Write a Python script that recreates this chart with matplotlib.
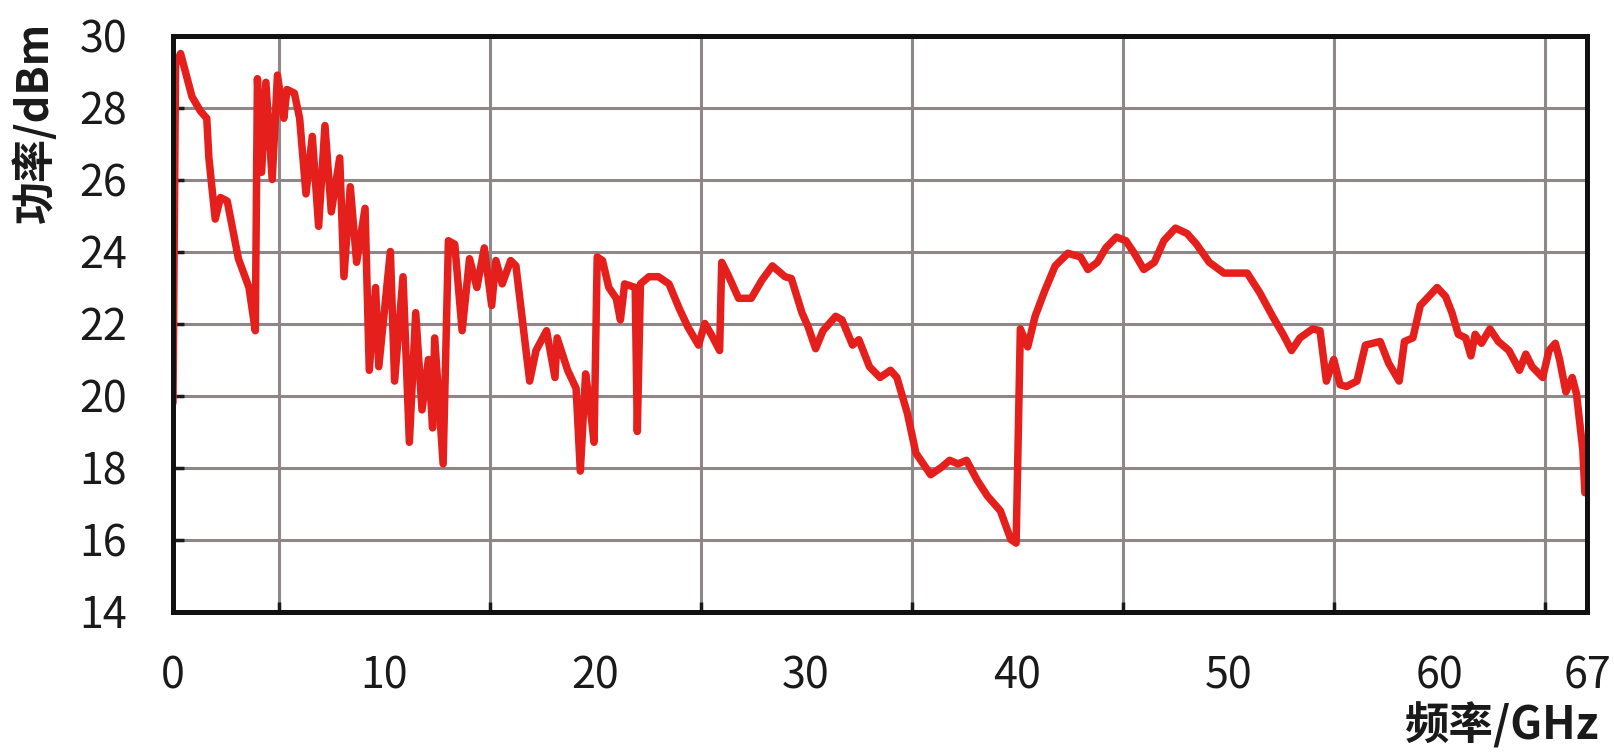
import matplotlib
matplotlib.use("Agg")
import matplotlib.pyplot as plt
import numpy as np

plt.rcParams['font.family'] = ['Noto Sans CJK SC', 'DejaVu Sans']

# ---- data ----
freq_ghz = [
    0.0, 0.12, 0.36, 0.9, 1.3, 1.6, 1.7, 2.0, 2.25, 2.57, 3.1, 3.6, 3.9,
    4.0, 4.2, 4.4, 4.7, 4.95, 5.25, 5.4, 5.75, 6.0, 6.3, 6.6, 6.9, 7.2, 7.5,
    7.9, 8.1, 8.4, 8.7, 9.1, 9.3, 9.6, 9.75, 10.3, 10.5, 10.9, 11.2, 11.5,
    11.8, 12.1, 12.3, 12.4, 12.8, 13.05, 13.35, 13.7, 14.05, 14.4, 14.75,
    15.1, 15.3, 15.6, 16.0, 16.25, 16.9, 17.2, 17.7, 18.1, 18.2, 18.7, 19.1,
    19.3, 19.55, 19.8, 19.95, 20.1, 20.35, 20.65, 21.0, 21.2, 21.4, 21.9,
    22.0, 22.15, 22.55, 23.0, 23.5, 24.0, 24.4, 24.9, 25.2, 25.5, 25.9, 26.0,
    26.3, 26.8, 27.4, 27.9, 28.4, 29.0, 29.3, 29.8, 30.1, 30.45, 30.8, 31.4,
    31.7, 32.2, 32.5, 33.0, 33.5, 34.0, 34.3, 34.8, 35.2, 35.9, 36.4, 36.8,
    37.2, 37.6, 38.1, 38.6, 39.2, 39.7, 39.95, 40.15, 40.5, 40.85, 41.3,
    41.8, 42.4, 43.0, 43.35, 43.8, 44.2, 44.7, 45.15, 45.55, 46.0, 46.5,
    46.95, 47.5, 48.05, 48.5, 49.1, 49.8, 50.2, 50.9, 51.5, 52.1, 52.6, 53.0,
    53.4, 54.0, 54.35, 54.65, 55.0, 55.3, 55.6, 56.1, 56.5, 57.2, 57.6, 58.1,
    58.35, 58.75, 59.1, 59.5, 59.9, 60.3, 60.6, 60.9, 61.25, 61.5, 61.7, 62.0,
    62.4, 62.8, 63.3, 63.8, 64.1, 64.4, 64.9, 65.2, 65.5, 65.7, 66.0, 66.3,
    66.5, 66.8, 66.9,
]
power_dbm = [
    19.8, 29.2, 29.5, 28.3, 27.9, 27.7, 26.6, 24.9, 25.5, 25.4, 23.8, 23.0, 21.8,
    28.8, 26.2, 28.7, 26.0, 28.9, 27.7, 28.5, 28.4, 27.7, 25.6, 27.2, 24.7, 27.5, 25.1,
    26.6, 23.3, 25.8, 23.7, 25.2, 20.7, 23.0, 20.8, 24.0, 20.4, 23.3, 18.7, 22.3,
    19.6, 21.0, 19.1, 21.6, 18.1, 24.3, 24.2, 21.8, 23.8, 23.0, 24.1,
    22.5, 23.75, 23.1, 23.75, 23.6, 20.4, 21.25, 21.8, 20.5, 21.6, 20.7, 20.2,
    17.9, 20.6, 19.5, 18.7, 23.85, 23.75, 23.0, 22.7, 22.1, 23.1, 23.0,
    19.0, 23.1, 23.3, 23.3, 23.1, 22.4, 21.9, 21.4, 22.0, 21.7, 21.25, 23.7,
    23.35, 22.7, 22.7, 23.2, 23.6, 23.3, 23.25, 22.3, 21.9, 21.3, 21.8, 22.2,
    22.1, 21.4, 21.55, 20.8, 20.5, 20.7, 20.5, 19.5, 18.4, 17.8, 18.0, 18.2,
    18.1, 18.2, 17.65, 17.2, 16.8, 16.0, 15.9, 21.85, 21.35, 22.2, 22.9,
    23.6, 23.95, 23.85, 23.5, 23.7, 24.1, 24.4, 24.3, 23.95, 23.5, 23.7,
    24.3, 24.65, 24.5, 24.2, 23.7, 23.4, 23.4, 23.4, 22.85, 22.2, 21.7, 21.25,
    21.6, 21.85, 21.8, 20.4, 21.0, 20.3, 20.25, 20.4, 21.4, 21.5, 20.9, 20.4,
    21.5, 21.6, 22.5, 22.75, 23.0, 22.75, 22.3, 21.7, 21.6, 21.1, 21.7, 21.45,
    21.85, 21.5, 21.25, 20.7, 21.15, 20.8, 20.5, 21.25, 21.45, 21.0, 20.1, 20.5,
    20.05, 18.5, 17.3,
]

x_tick_values = [0, 10, 20, 30, 40, 50, 60, 67]
x_tick_labels = ['0', '10', '20', '30', '40', '50', '60', '67']
x_grid_values = [0, 5, 10, 15, 20, 25, 30, 35, 40, 45, 50, 55, 60, 65]
y_tick_values = [14, 16, 18, 20, 22, 24, 26, 28, 30]
y_tick_labels = ['14', '16', '18', '20', '22', '24', '26', '28', '30']

x_label = '频率/GHz'
y_label = '功率/dBm'

# ---- figure ----
W, H = 1614, 752
fig = plt.figure(figsize=(W / 100, H / 100), dpi=100)
ax = fig.add_axes([173 / W, 1 - 611.5 / H, (1587 - 173) / W, (611.5 - 35.5) / H])

grid_color = '#8f8787'
ax.plot(freq_ghz, power_dbm, color='#e5201c', lw=5.4, solid_joinstyle='round',
        solid_capstyle='round', zorder=3)

ax.set_xlim(0, 67)
ax.set_ylim(14, 30)

ax.set_xticks(x_tick_values)
ax.set_xticklabels(x_tick_labels)
ax.set_xticks(x_grid_values, minor=True)
ax.set_yticks(y_tick_values)
ax.set_yticklabels(y_tick_labels)

ax.xaxis.grid(True, which='minor', color=grid_color, lw=2.2, zorder=1)
ax.xaxis.grid(False, which='major')
ax.yaxis.grid(True, which='major', color=grid_color, lw=2.2, zorder=1)
ax.set_axisbelow(True)

ax.tick_params(axis='x', which='major', direction='in', length=0, pad=31,
               labelsize=31, colors='#1a1a1a')
ax.tick_params(axis='x', which='minor', direction='in', length=7, width=2.5,
               color='#1a1a1a')
ax.tick_params(axis='y', which='major', direction='in', length=8, width=2.5,
               pad=33, labelsize=31, colors='#1a1a1a')

for s in ax.spines.values():
    s.set_linewidth(3.6)
    s.set_color('#111111')
    s.set_zorder(4)

fig.text(35 / W, 1 - 122 / H, y_label, rotation=90, ha='center', va='center',
         fontsize=31, fontweight='bold', color='#1a1a1a')
fig.text(1405 / W, 3 / H, x_label, ha='left', va='bottom',
         fontsize=32, fontweight='bold', color='#1a1a1a')

fig.savefig('out.png', dpi=100)
